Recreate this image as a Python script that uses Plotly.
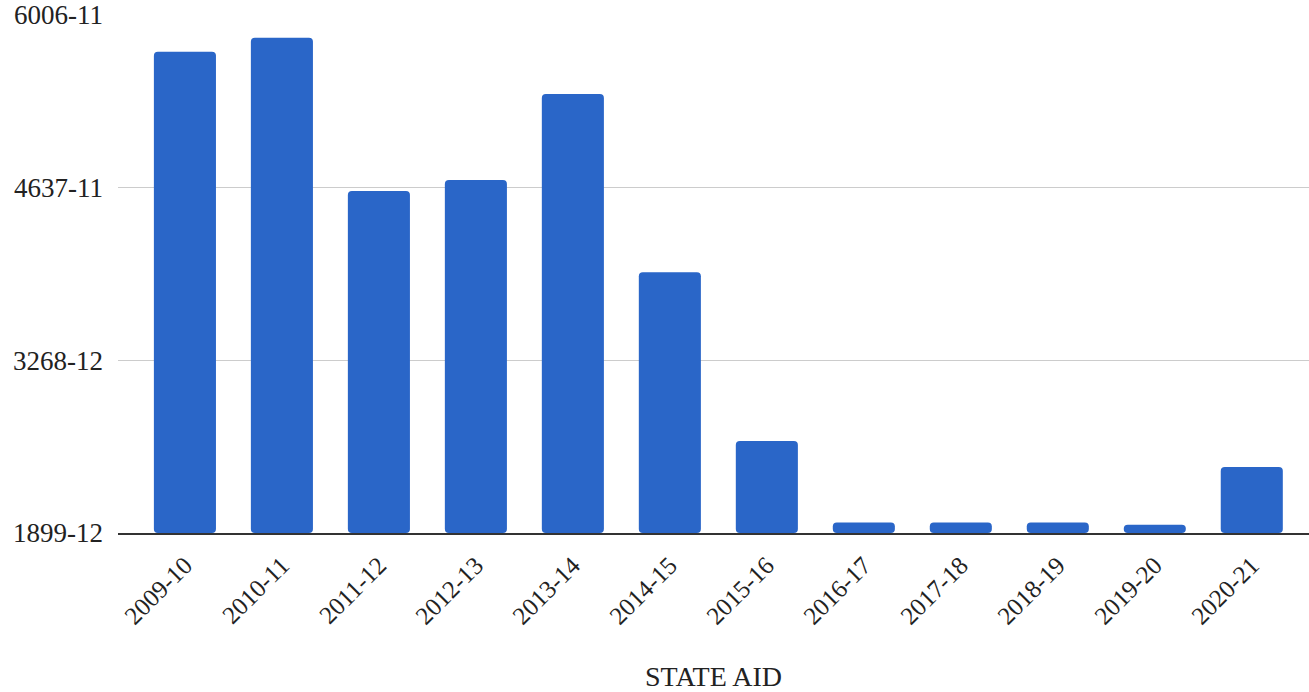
import plotly.graph_objects as go

# State aid by fiscal year
years = ["2009-10", "2010-11", "2011-12", "2012-13", "2013-14", "2014-15",
         "2015-16", "2016-17", "2017-18", "2018-19", "2019-20", "2020-21"]
state_aid = [5715, 5826, 4610, 4698, 5379, 3966, 2628, 1983, 1983, 1983, 1965, 2422]

# Axis tick positions and their labels
y_tickvals = [1899, 3268, 4637, 6006]
y_ticktext = ["1899-12", "3268-12", "4637-11", "6006-11"]

fig = go.Figure(
    go.Bar(
        x=list(range(len(years))),
        y=[v - y_tickvals[0] for v in state_aid],
        base=y_tickvals[0],
        marker=dict(color="#2a66c8", line=dict(width=0)),
        width=0.64,
    )
)

fig.update_layout(
    width=1309,
    height=692,
    margin=dict(l=118, r=0, t=15, b=159),
    paper_bgcolor="white",
    plot_bgcolor="white",
    barcornerradius=4,
    font=dict(family="Liberation Serif", size=26, color="#222"),
    showlegend=False,
    xaxis=dict(
        tickmode="array",
        tickvals=list(range(len(years))),
        ticktext=years,
        tickangle=-45,
        tickfont=dict(size=25),
        range=[-0.69, 11.59],
        showgrid=False,
        showline=True,
        linecolor="#333",
        linewidth=1.5,
        ticks="",
        ticklabelstandoff=6,
        title=dict(text="STATE AID", font=dict(size=28), standoff=40),
    ),
    yaxis=dict(
        range=[1899, 6006],
        tickmode="array",
        tickvals=y_tickvals,
        ticktext=y_ticktext,
        showgrid=True,
        gridcolor="#cccccc",
        gridwidth=1,
        zeroline=False,
        ticks="",
        ticklabelstandoff=14,
        tickfont=dict(size=27),
    ),
)

fig.write_html("out.html")
